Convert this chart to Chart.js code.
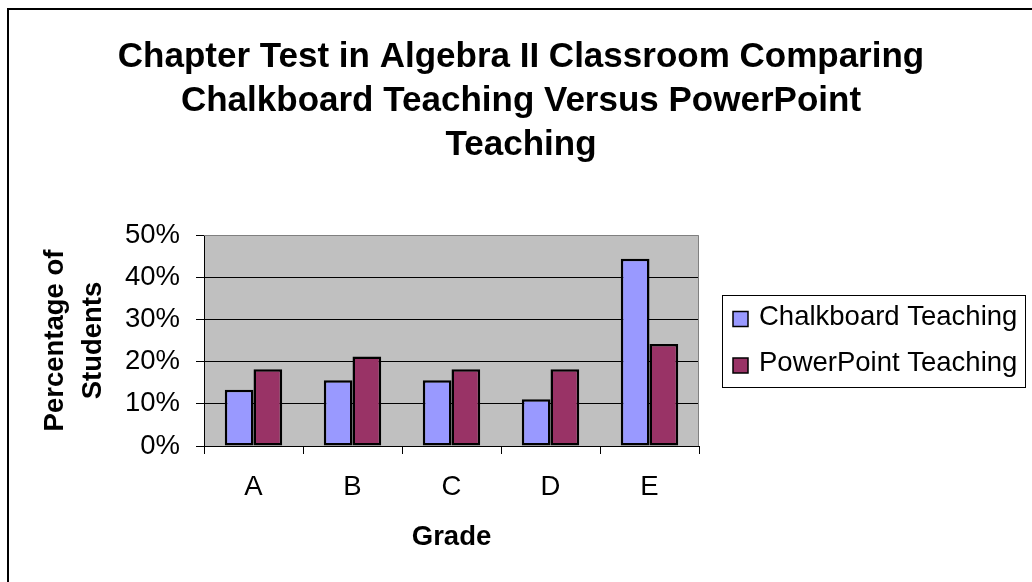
<!DOCTYPE html>
<html>
<head>
<meta charset="utf-8">
<title>Chapter Test in Algebra II</title>
<script src="https://cdn.jsdelivr.net/npm/chart.js@4"></script>
<style>
  html, body { margin: 0; padding: 0; background: #fff; overflow: hidden; }
  #wrap { width: 1032px; height: 582px; }
</style>
</head>
<body>
<div id="wrap"><canvas id="gradeChart" width="1032" height="582"></canvas></div>
<script>
// Data (percent of students per grade)
const grades = ['A', 'B', 'C', 'D', 'E'];
const chalkboard = [13.3, 15.6, 15.6, 11.1, 44.4];
const powerpoint = [18.2, 21.2, 18.2, 18.2, 24.2];
const seriesNames = ['Chalkboard Teaching', 'PowerPoint Teaching'];
const yTicks = [0, 10, 20, 30, 40, 50];

const FONT = '"Liberation Sans", Arial, sans-serif';
Chart.defaults.font.family = FONT;
Chart.defaults.color = '#000';

// Outer frame, grey plot area and the boxed legend
const excelLook = {
    id: 'excelLook',
    beforeDraw(chart) {
        const { ctx, chartArea: a } = chart;
        ctx.save();
        ctx.fillStyle = '#000';
        ctx.fillRect(7, 8, chart.width, 2);
        ctx.fillRect(7, 8, 2, chart.height);
        ctx.fillStyle = '#c0c0c0';
        ctx.fillRect(a.left, a.top, a.right - a.left, a.bottom - a.top);
        ctx.restore();
    },
    beforeDatasetsDraw(chart) {
        const { ctx, chartArea: a } = chart;
        ctx.save();
        ctx.strokeStyle = '#808080';
        ctx.lineWidth = 1;
        ctx.beginPath();
        ctx.moveTo(a.left, Math.round(a.top) + 0.5);
        ctx.lineTo(Math.round(a.right) - 0.5, Math.round(a.top) + 0.5);
        ctx.lineTo(Math.round(a.right) - 0.5, a.bottom);
        ctx.stroke();
        ctx.restore();
    },
    afterDraw(chart) {
        const { ctx, chartArea: a } = chart;
        const x = Math.round(a.right) + 23;
        const y = Math.round((a.top + a.bottom) / 2) - 46;
        ctx.save();
        ctx.strokeStyle = '#000';
        ctx.lineWidth = 1;
        ctx.strokeRect(x + 0.5, y + 0.5, 303, 92);
        ctx.font = '27.5px ' + FONT;
        ctx.textBaseline = 'middle';
        chart.data.datasets.forEach((ds, i) => {
            const cy = y + 24 + i * 46.5;
            ctx.fillStyle = ds.backgroundColor;
            ctx.fillRect(x + 11, cy - 7.5, 15, 15);
            ctx.lineWidth = 1.5;
            ctx.strokeRect(x + 11, cy - 7.5, 15, 15);
            ctx.fillStyle = '#000';
            ctx.fillText(ds.label, x + 37, cy - 2);
        });
        ctx.restore();
    }
};

const ctx = document.getElementById('gradeChart').getContext('2d');

new Chart(ctx, {
    type: 'bar',
    data: {
        labels: grades,
        datasets: [{
            label: seriesNames[0],
            data: chalkboard,
            backgroundColor: '#9999ff',
            borderColor: '#000',
            borderWidth: 2.5,
            borderSkipped: false
        }, {
            label: seriesNames[1],
            data: powerpoint,
            backgroundColor: '#993366',
            borderColor: '#000',
            borderWidth: 2.5,
            borderSkipped: false
        }]
    },
    options: {
        responsive: false,
        animation: false,
        categoryPercentage: 0.58,
        barPercentage: 1,
        layout: { padding: { left: 10, right: 0, top: 0, bottom: 28 } },
        plugins: {
            legend: { display: false },
            tooltip: { enabled: false },
            title: {
                display: true,
                text: ['Chapter Test in Algebra II Classroom Comparing',
                       'Chalkboard Teaching Versus PowerPoint',
                       'Teaching'],
                color: '#000',
                font: { size: 35, weight: 'bold', lineHeight: 44 / 35 },
                padding: { top: 35, bottom: 68 }
            }
        },
        scales: {
            x: {
                grid: { offset: true, drawOnChartArea: false, tickLength: 8, tickColor: '#000' },
                border: { color: '#000', width: 1 },
                ticks: { padding: 17, font: { size: 27.5 } },
                title: {
                    display: true,
                    text: 'Grade',
                    font: { size: 27.5, weight: 'bold' },
                    padding: { top: 0, bottom: 0 }
                }
            },
            y: {
                min: yTicks[0],
                max: yTicks[yTicks.length - 1],
                ticks: {
                    stepSize: yTicks[1] - yTicks[0],
                    padding: 16,
                    font: { size: 27.5 },
                    callback: v => v + '%'
                },
                grid: {
                    color: c => c.tick && c.tick.value === yTicks[yTicks.length - 1] ? 'rgba(0,0,0,0)' : '#000',
                    tickLength: 8,
                    tickColor: '#000'
                },
                border: { color: '#000', width: 1 },
                title: {
                    display: true,
                    text: ['Percentage of', 'Students'],
                    font: { size: 27.5, weight: 'bold', lineHeight: 38 / 27.5 },
                    padding: { top: 26, bottom: 0 }
                },
                afterFit(scale) { scale.width = 194; }
            },
            // empty room on the right for the legend box
            room: {
                type: 'linear',
                axis: 'y',
                position: 'right',
                grid: { display: false },
                ticks: { display: false },
                border: { display: false },
                afterFit(scale) { scale.width = 333; }
            }
        }
    },
    plugins: [excelLook]
});
</script>
</body>
</html>
